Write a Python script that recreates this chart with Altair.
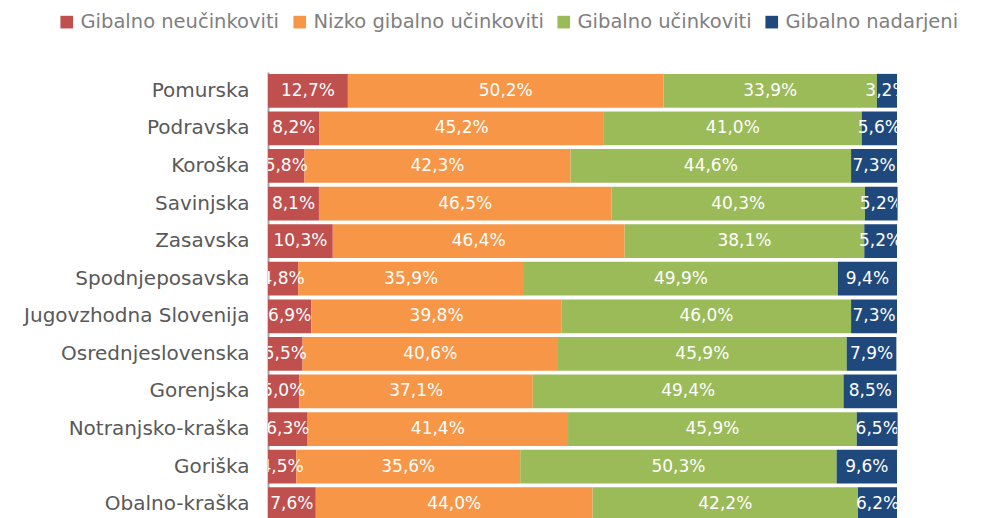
import altair as alt
import pandas as pd

regions = ["Pomurska", "Podravska", "Koroška", "Savinjska", "Zasavska", "Spodnjeposavska",
           "Jugovzhodna Slovenija", "Osrednjeslovenska", "Gorenjska", "Notranjsko-kraška",
           "Goriška", "Obalno-kraška"]
categories = ["Gibalno neučinkoviti", "Nizko gibalno učinkoviti", "Gibalno učinkoviti", "Gibalno nadarjeni"]
colors = ["#C0504D", "#F79646", "#9BBB59", "#1F497D"]

neucinkoviti = [12.7, 8.2, 5.8, 8.1, 10.3, 4.8, 6.9, 5.5, 5.0, 6.3, 4.5, 7.6]
nizko = [50.2, 45.2, 42.3, 46.5, 46.4, 35.9, 39.8, 40.6, 37.1, 41.4, 35.6, 44.0]
ucinkoviti = [33.9, 41.0, 44.6, 40.3, 38.1, 49.9, 46.0, 45.9, 49.4, 45.9, 50.3, 42.2]
nadarjeni = [3.2, 5.6, 7.3, 5.2, 5.2, 9.4, 7.3, 7.9, 8.5, 6.5, 9.6, 6.2]

series = [neucinkoviti, nizko, ucinkoviti, nadarjeni]
rows = []
for ci, (cat, vals) in enumerate(zip(categories, series)):
    for r, v in zip(regions, vals):
        rows.append({"region": r, "cat": cat, "order": ci, "value": v,
                     "label": f"{v:.1f}".replace(".", ",") + "%"})
df = pd.DataFrame(rows)

FONT = "DejaVu Sans"

base = alt.Chart(df).transform_stack(
    stack="value", groupby=["region"], sort=[alt.SortField("order")], as_=["v0", "v1"]
).transform_calculate(mid="(datum.v0 + datum.v1) / 2")

y = alt.Y("region:N", sort=regions, title=None,
          scale=alt.Scale(paddingInner=0.1, paddingOuter=0.05),
          axis=alt.Axis(ticks=False, domainColor="#A6A6A6", domainWidth=2,
                        labelColor="#595959", labelFont=FONT, labelFontSize=20,
                        labelPadding=19, labelLimit=300, labelFontWeight="normal"))

bars = base.mark_bar().encode(
    x=alt.X("v0:Q", scale=alt.Scale(domain=[0, 100], nice=False), axis=None),
    x2="v1:Q",
    y=y,
    color=alt.Color("cat:N", sort=categories,
                    scale=alt.Scale(domain=categories, range=colors),
                    legend=alt.Legend(title=None, orient="none", direction="horizontal",
                                      legendX=-211, legendY=-60, columns=4,
                                      symbolType="square", symbolSize=160,
                                      symbolStrokeWidth=0, labelFont=FONT,
                                      labelFontSize=19.5, labelColor="#7F7F7F",
                                      columnPadding=10, labelOffset=4,
                                      labelLimit=400)),
    order=alt.Order("order:Q"),
)

labels = base.mark_text(color="white", font=FONT, fontSize=17, clip=True).encode(
    x=alt.X("mid:Q", scale=alt.Scale(domain=[0, 100], nice=False), axis=None),
    y=alt.Y("region:N", sort=regions),
    text="label:N",
)

chart = (bars + labels).properties(
    width=629, height=451,
    autosize=alt.AutoSizeParams(type="none"),
    padding={"left": 260, "top": 64, "right": 92, "bottom": 0},
).configure_view(stroke=None)

chart.save("out.html", embed_options={"renderer": "svg", "actions": False})
